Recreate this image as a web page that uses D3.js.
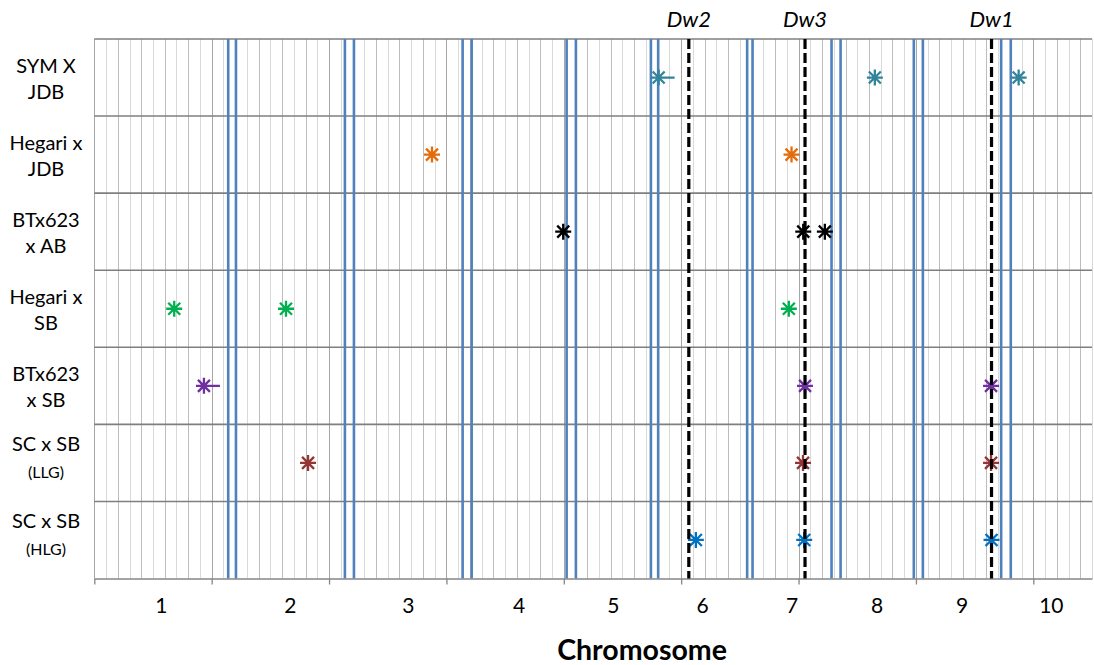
<!DOCTYPE html>
<html>
<head>
<meta charset="utf-8">
<script src="https://cdn.jsdelivr.net/npm/d3@7"></script>
<style>
  html, body { margin: 0; padding: 0; background: #fff; }
  svg { display: block; }
  text { font-family: Lato, "Open Sans", sans-serif; }
</style>
</head>
<body>
<svg id="chart" width="1094" height="665"></svg>
<script>
// ---------------- data ----------------
const populationLine1 = ["SYM X", "Hegari x", "BTx623", "Hegari x", "BTx623", "SC x SB", "SC x SB"];
const populationLine2 = ["JDB", "JDB", "x AB", "SB", "x SB", "(LLG)", "(HLG)"];
const seriesColors = ["#31849B", "#E46C0A", "#000000", "#00B050", "#7030A0", "#943634", "#0070C0"];

// QTL positions (cumulative map units) per population row
const qtlSYMxJDB    = [48.08, 66.5, 78.75];
const qtlHegarixJDB = [28.77, 59.4];
const qtlBTxAB      = [39.95, 60.4, 62.24];
const qtlHegarixSB  = [6.81, 16.33, 59.17];
const qtlBTxSB      = [9.34, 60.55, 76.4];
const qtlSCxSB_LLG  = [18.21, 60.38, 76.4];
const qtlSCxSB_HLG  = [51.25, 60.48, 76.44];
const qtlRows = [qtlSYMxJDB, qtlHegarixJDB, qtlBTxAB, qtlHegarixSB, qtlBTxSB, qtlSCxSB_LLG, qtlSCxSB_HLG];
// points drawn with a horizontal tail to the right  [row, index]
const tailPoints = [[0, 0], [4, 0]];

// chromosomes
const chromosomes = ["1", "2", "3", "4", "5", "6", "7", "8", "9", "10"];
const chromStart = [0, 12.07, 22.12, 32.15, 41.03, 48.04, 56.08, 63.58, 70.59, 78.08];
const chromEnd   = [11.41, 21.35, 31.38, 40.24, 47.42, 55.62, 62.81, 69.82, 77.26, 85];

// dwarfing genes
const genes = ["Dw2", "Dw3", "Dw1"];
const genePos = [50.65, 60.55, 76.44];

const xMax = 85;
const majorTicks = [0, 10, 20, 30, 40, 50, 60, 70, 80];

// ---------------- drawing ----------------
const svg = d3.select("#chart");
const x = d3.scaleLinear().domain([0, xMax]).range([94.3, 1092]);
const y = d3.scaleLinear().domain([0, populationLine1.length]).range([39, 578.5]);

// vertical minor gridlines
const grid = svg.append("g");
grid.selectAll("line.g").data(d3.range(1, xMax + 1)).join("line")
  .attr("x1", d => Math.round(x(d)) + 0.5).attr("x2", d => Math.round(x(d)) + 0.5)
  .attr("y1", y(0)).attr("y2", y(7))
  .attr("stroke", d => d % 10 === 0 ? "#a6a6a6" : (d % 2 === 0 ? "#bdbdbd" : "#d9d9d9"))
  .attr("stroke-width", 1);
// left border
grid.append("line")
  .attr("x1", Math.round(x(0)) + 0.5).attr("x2", Math.round(x(0)) + 0.5)
  .attr("y1", y(0)).attr("y2", y(7)).attr("stroke", "#a6a6a6");

// horizontal row separators
svg.append("g").selectAll("line").data(d3.range(0, 7)).join("line")
  .attr("x1", x(0)).attr("x2", x(xMax))
  .attr("y1", d => y(d)).attr("y2", d => y(d))
  .attr("stroke", "#7f7f7f").attr("stroke-width", 1.6);

// chromosome boundaries (blue double lines)
const bounds = chromEnd.slice(0, -1).concat(chromStart.slice(1));
svg.append("g").selectAll("line").data(bounds).join("line")
  .attr("x1", d => x(d)).attr("x2", d => x(d))
  .attr("y1", y(0)).attr("y2", y(7))
  .attr("stroke", "#4F81BD").attr("stroke-width", 2.6);

// bottom axis
const axis = svg.append("g").attr("transform", `translate(0,${y(7)})`)
  .call(d3.axisBottom(x).tickValues(majorTicks).tickSize(6).tickSizeOuter(0).tickFormat(""));
axis.select(".domain").attr("stroke", "#868686").attr("stroke-width", 1.6);
axis.selectAll(".tick line").attr("stroke", "#868686").attr("stroke-width", 1.3);

// chromosome labels at chromosome centers
svg.append("g").selectAll("text").data(chromosomes).join("text")
  .attr("x", (d, i) => x((chromStart[i] + chromEnd[i]) / 2))
  .attr("y", 613)
  .attr("text-anchor", "middle")
  .attr("font-size", 21)
  .attr("fill", "#000")
  .text(d => d);

svg.append("text")
  .attr("x", 642).attr("y", 660)
  .attr("text-anchor", "middle")
  .attr("font-size", 28.5).attr("font-weight", "bold")
  .attr("fill", "#000")
  .text("Chromosome");

// row labels
const lab = svg.append("g");
populationLine1.forEach((t, i) => {
  const cy = (y(i) + y(i + 1)) / 2;
  const small = populationLine2[i].startsWith("(");
  lab.append("text").attr("x", 46).attr("y", cy - (small ? 12 : 5))
    .attr("text-anchor", "middle").attr("font-size", 20).text(t);
  lab.append("text").attr("x", 46).attr("y", cy + (small ? 15 : 21))
    .attr("text-anchor", "middle").attr("font-size", small ? 16 : 20).text(populationLine2[i]);
});

// QTL star markers
const star = "M-6,-6L6,6M-6,6L6,-6M0,-8L0,8M-8,0L8,0";
const mk = svg.append("g");
qtlRows.forEach((arr, r) => {
  const cy = (y(r) + y(r + 1)) / 2;
  arr.forEach((v, k) => {
    const hasTail = tailPoints.some(p => p[0] === r && p[1] === k);
    mk.append("path")
      .attr("transform", `translate(${x(v)},${cy})`)
      .attr("d", star + (hasTail ? "M0,0L16,0" : ""))
      .attr("stroke", seriesColors[r]).attr("stroke-width", 2.3)
      .attr("fill", "none").attr("stroke-linecap", "butt");
  });
});

// dwarfing gene dashed lines
svg.append("g").selectAll("line").data(genePos).join("line")
  .attr("x1", d => x(d)).attr("x2", d => x(d))
  .attr("y1", y(0)).attr("y2", y(7))
  .attr("stroke", "#000").attr("stroke-width", 3.2)
  .attr("stroke-dasharray", "10,4");

svg.append("g").selectAll("text").data(genes).join("text")
  .attr("x", (d, i) => x(genePos[i]))
  .attr("y", 27)
  .attr("text-anchor", "middle")
  .attr("font-size", 22).attr("font-style", "italic")
  .attr("fill", "#000")
  .text(d => d);
</script>
</body>
</html>
